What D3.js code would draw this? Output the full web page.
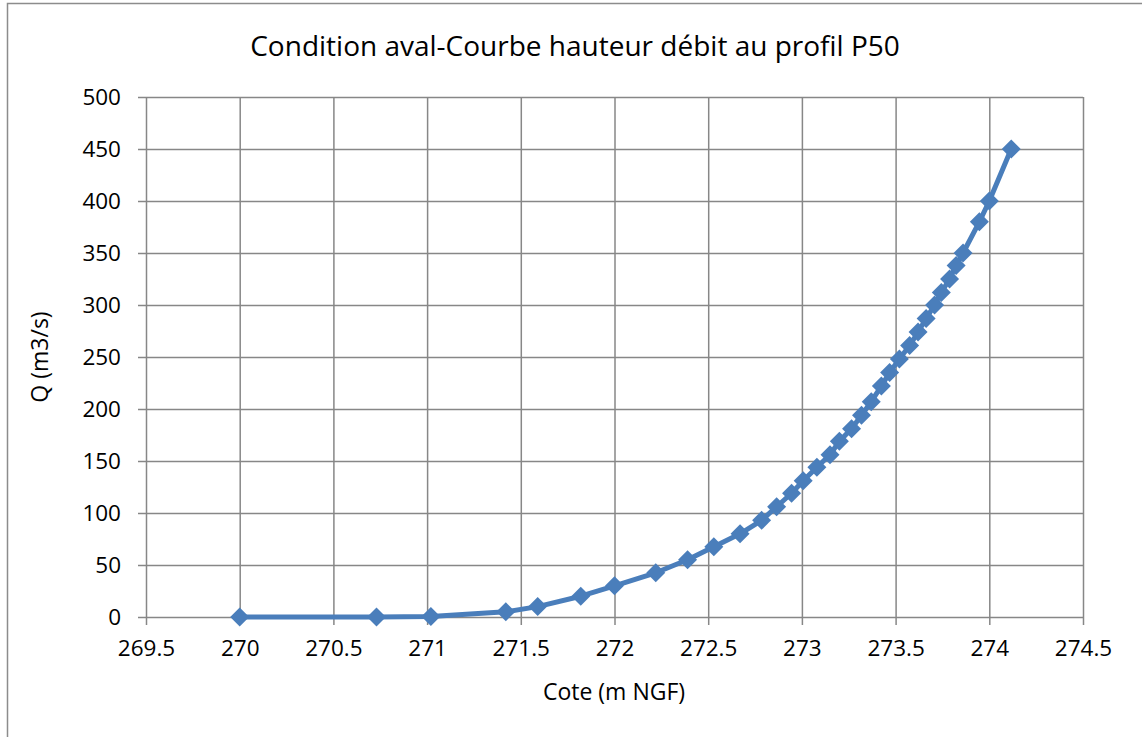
<!DOCTYPE html>
<html lang="fr">
<head>
    <meta charset="UTF-8">
    <title>Courbe hauteur débit P50</title>
    <script src="https://d3js.org/d3.v7.min.js"></script>
    <style>
        body { margin: 0; background: #fff; }
        text { font-family: "Open Sans", sans-serif; fill: #000; }
    </style>
</head>
<body>
<div id="chart"></div>
<script>
    // cote (m NGF) et débit Q (m3/s)
    const cote = [270, 270.73, 271.02, 271.42, 271.59, 271.82, 272.0, 272.22, 272.39, 272.53,
        272.67, 272.785, 272.865, 272.945, 273.007, 273.08, 273.15, 273.2, 273.265, 273.318,
        273.37, 273.424, 273.468, 273.52, 273.575, 273.62, 273.663, 273.708, 273.744, 273.788,
        273.823, 273.86, 273.947, 274.0, 274.117];
    const debit = [0, 0, 0.5, 5, 10, 20, 30, 42.5, 55, 67.5,
        80, 93, 106, 119, 131, 144, 156, 169, 181, 194,
        207, 222, 235, 248, 261, 274, 287, 300, 312, 325,
        338, 350, 380, 400, 450];
    const xTicks = [269.5, 270, 270.5, 271, 271.5, 272, 272.5, 273, 273.5, 274, 274.5];
    const yTicks = [0, 50, 100, 150, 200, 250, 300, 350, 400, 450, 500];

    const title = "Condition aval-Courbe hauteur débit au profil P50";
    const xLabel = "Cote (m NGF)";
    const yLabel = "Q (m3/s)";

    function drawChart(width, height) {
        const svg = d3.select("#chart").append("svg")
            .attr("width", width)
            .attr("height", height);

        // cadre extérieur
        svg.append("rect")
            .attr("x", 7.5).attr("y", 3.5)
            .attr("width", width + 10).attr("height", height + 10)
            .attr("fill", "none")
            .attr("stroke", "#8c8c8c")
            .attr("stroke-width", 1.5);

        const left = 146, right = 1083, top = 97, bottom = 617;

        const x = d3.scaleLinear().domain([269.5, 274.5]).range([left, right]);
        const y = d3.scaleLinear().domain([0, 500]).range([bottom, top]);

        const gridColor = "#878787";

        // grille horizontale + axe y
        const yAxis = d3.axisLeft(y)
            .tickValues(yTicks)
            .tickSize(-(right - left))
            .tickFormat(d3.format("d"));
        const gy = svg.append("g")
            .attr("transform", `translate(${left},0)`)
            .call(yAxis);
        gy.select(".domain").remove();
        gy.selectAll(".tick line")
            .attr("x1", -8)
            .attr("stroke", gridColor)
            .attr("stroke-width", 1.5);
        gy.selectAll(".tick text")
            .attr("font-size", 22.5)
            .attr("font-family", "Open Sans, sans-serif")
            .attr("x", -25);

        // grille verticale + axe x
        const xAxis = d3.axisBottom(x)
            .tickValues(xTicks)
            .tickSize(-(bottom - top))
            .tickFormat(d => d);
        const gx = svg.append("g")
            .attr("transform", `translate(0,${bottom})`)
            .call(xAxis);
        gx.select(".domain").remove();
        gx.selectAll(".tick line")
            .attr("y1", 8)
            .attr("stroke", gridColor)
            .attr("stroke-width", 1.5);
        gx.selectAll(".tick text")
            .attr("font-size", 22.5)
            .attr("font-family", "Open Sans, sans-serif")
            .attr("y", 23);

        const data = cote.map((c, i) => ({x: c, q: debit[i]}));
        const blue = "#4a7ebb";

        svg.append("path")
            .datum(data)
            .attr("fill", "none")
            .attr("stroke", blue)
            .attr("stroke-width", 5)
            .attr("stroke-linejoin", "round")
            .attr("d", d3.line().x(d => x(d.x)).y(d => y(d.q)));

        const s = 9.5;
        svg.append("g").selectAll("path")
            .data(data)
            .join("path")
            .attr("transform", d => `translate(${x(d.x)},${y(d.q)})`)
            .attr("d", `M0,${-s}L${s},0L0,${s}L${-s},0Z`)
            .attr("fill", blue);

        svg.append("text")
            .attr("x", 575).attr("y", 56)
            .attr("text-anchor", "middle")
            .attr("font-size", 28)
            .text(title);

        svg.append("text")
            .attr("x", 614).attr("y", 700)
            .attr("text-anchor", "middle")
            .attr("font-size", 23)
            .text(xLabel);

        svg.append("text")
            .attr("transform", "translate(48,357) rotate(-90)")
            .attr("text-anchor", "middle")
            .attr("font-size", 23)
            .text(yLabel);
    }

    drawChart(1142, 737);
</script>
</body>
</html>
